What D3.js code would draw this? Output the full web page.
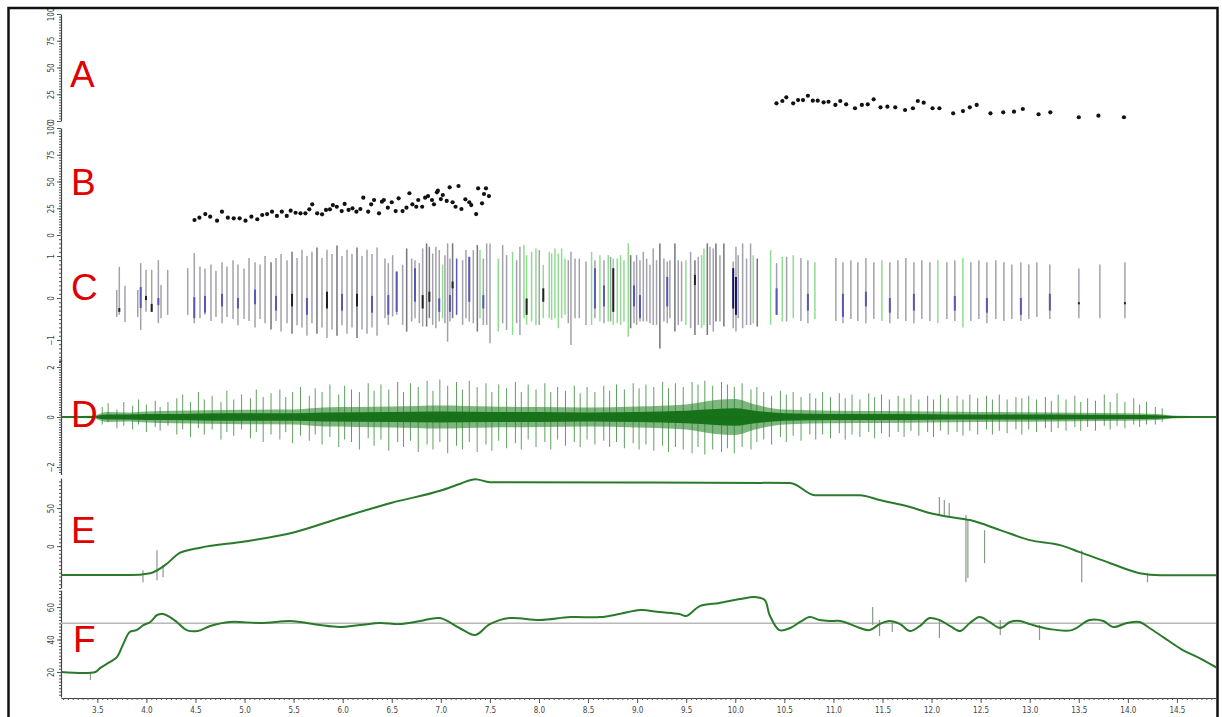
<!DOCTYPE html>
<html>
<head>
<meta charset="utf-8">
<script src="https://cdn.jsdelivr.net/npm/d3@7"></script>
<style>
  body { margin: 0; background: #fff; }
  svg { display: block; }
  .axis text { font-family: "Liberation Sans Narrow", "DejaVu Sans Condensed", sans-serif; font-size: 8px; fill: #444; }
  .axis .domain { stroke: #444; stroke-width: 1.2; }
  .axis line { stroke: #555; }
  .letter { font-family: "Liberation Sans", Arial, sans-serif; font-size: 37px; fill: #e00000; }
</style>
</head>
<body>
<svg width="1222" height="717"></svg>
<script>
// time axis ticks
let timeTicks = [3.5, 4.0, 4.5, 5.0, 5.5, 6.0, 6.5, 7.0, 7.5, 8.0, 8.5, 9.0, 9.5, 10.0, 10.5, 11.0, 11.5, 12.0, 12.5, 13.0, 13.5, 14.0, 14.5, 15.0]

// panel A: dots
let aTime = [10.42, 10.48, 10.52, 10.59, 10.64, 10.69, 10.74, 10.79, 10.84, 10.90, 10.95, 11.02, 11.07, 11.13, 11.22, 11.29, 11.35, 11.41, 11.48, 11.55, 11.63, 11.73, 11.81, 11.86, 11.92, 12.01, 12.08, 12.22, 12.32, 12.39, 12.46, 12.60, 12.73, 12.84, 12.93, 13.09, 13.21, 13.50, 13.70, 13.96]
let aVal = [16.5, 18.7, 22.1, 16.5, 19.6, 19.6, 23.6, 19.0, 19.0, 17.5, 18.0, 15.0, 18.7, 15.6, 11.9, 15.0, 15.6, 20.3, 12.8, 13.4, 12.8, 10.3, 11.9, 18.7, 17.1, 11.9, 11.9, 7.2, 9.3, 12.8, 15.0, 7.2, 8.1, 8.7, 11.2, 6.3, 8.1, 3.5, 5.0, 3.5]

// panel B: dots
let bTime = [4.49, 4.54, 4.60, 4.65, 4.72, 4.77, 4.83, 4.89, 4.95, 5.01, 5.07, 5.13, 5.18, 5.23, 5.28, 5.33, 5.38, 5.43, 5.47, 5.52, 5.57, 5.62, 5.66, 5.69, 5.74, 5.79, 5.83, 5.87, 5.90, 5.94, 5.99, 6.02, 6.06, 6.10, 6.14, 6.18, 6.21, 6.26, 6.29, 6.32, 6.37, 6.40, 6.42, 6.46, 6.50, 6.54, 6.57, 6.61, 6.65, 6.68, 6.71, 6.75, 6.77, 6.81, 6.84, 6.87, 6.91, 6.93, 6.96, 6.97, 7.00, 7.02, 7.06, 7.09, 7.12, 7.15, 7.18, 7.21, 7.25, 7.29, 7.31, 7.36, 7.38, 7.42, 7.44, 7.46, 7.49]
let bVal = [14.0, 16.2, 19.6, 17.1, 13.4, 21.8, 16.2, 15.6, 15.6, 13.4, 17.1, 14.7, 18.7, 19.6, 21.8, 17.8, 21.8, 17.8, 22.7, 20.8, 20.3, 20.3, 24.0, 28.7, 20.3, 19.3, 23.4, 24.0, 28.0, 26.4, 22.4, 29.0, 23.4, 24.9, 21.8, 24.3, 34.9, 21.8, 28.7, 32.7, 20.3, 31.1, 32.7, 25.5, 30.6, 22.4, 34.3, 22.4, 25.5, 39.0, 28.7, 26.4, 32.7, 26.4, 34.9, 36.4, 32.7, 28.7, 39.9, 41.4, 33.6, 37.4, 31.8, 44.6, 30.6, 26.4, 45.8, 24.3, 33.3, 30.6, 28.0, 19.6, 43.6, 29.6, 38.3, 43.6, 36.4]

// panel C: [time, low, high, colour, inner low, inner high, inner colour]
let cSpikes = [
  [3.698, -0.45, 0.19, 'g'], [3.724, -0.40, 0.74, 'g', -0.33, -0.24, 'k'], [3.782, -0.57, 0.29, 'g'],
  [3.912, -0.45, 0.19, 'g'], [3.942, -0.76, 0.83, 'g', -0.24, 0.26, 'b'], [3.996, -0.33, 0.67, 'g', -0.05, 0.05, 'k'],
  [4.054, -0.33, 0.67, 'g', -0.33, -0.14, 'k'], [4.122, -0.60, 0.90, 'g', -0.17, 0.0, 'b'], [4.149, -0.48, 0.31, 'g'],
  [4.217, -0.40, 0.67, 'g'], [4.421, -0.40, 0.71, 'g'], [4.488, -0.60, 1.07, 'g', -0.48, 0.02, 'b'],
  [4.546, -0.48, 0.75, 'g'], [4.597, -0.40, 0.70, 'g', -0.35, 0.05, 'b'], [4.658, -0.55, 0.80, 'g'],
  [4.709, -0.45, 0.65, 'g'], [4.771, -0.60, 0.85, 'g', -0.20, 0.10, 'b'], [4.821, -0.45, 0.75, 'g'],
  [4.883, -0.50, 0.90, 'g'], [4.933, -0.65, 0.80, 'g', -0.25, 0.0, 'b'], [4.995, -0.50, 0.70, 'g'],
  [5.046, -0.55, 0.95, 'g'], [5.107, -0.70, 0.85, 'g', -0.15, 0.20, 'b'], [5.158, -0.50, 0.80, 'g'],
  [5.209, -0.60, 1.00, 'g'], [5.270, -0.75, 0.85, 'd'], [5.321, -0.55, 0.95, 'g', -0.30, 0.05, 'b'],
  [5.372, -0.80, 1.05, 'g'], [5.433, -0.60, 0.90, 'g'], [5.484, -0.85, 1.10, 'd', -0.20, 0.10, 'k'],
  [5.535, -0.65, 0.95, 'g'], [5.585, -0.70, 1.15, 'g'], [5.636, -0.90, 1.00, 'g', -0.40, 0.0, 'b'],
  [5.687, -0.60, 1.10, 'g'], [5.738, -0.85, 1.20, 'd'], [5.789, -0.70, 0.95, 'g'],
  [5.840, -0.95, 1.15, 'g', -0.25, 0.15, 'k'], [5.891, -0.75, 1.05, 'g'], [5.942, -0.90, 1.25, 'd'],
  [5.993, -0.65, 1.00, 'g', -0.30, 0.10, 'b'], [6.044, -0.85, 1.15, 'g'], [6.095, -0.70, 1.05, 'g'],
  [6.146, -0.95, 1.20, 'd', -0.20, 0.10, 'k'], [6.197, -0.75, 1.00, 'g'], [6.248, -0.85, 1.15, 'g'],
  [6.299, -0.70, 1.05, 'g', -0.35, 0.05, 'b'], [6.350, -0.90, 1.20, 'g'],
  [6.431, -0.48, 0.94, 'g'], [6.465, -0.64, 0.83, 'g', -0.40, 0.07, 'b'], [6.509, -0.44, 1.02, 'g'],
  [6.550, -0.40, 0.63, 'g', -0.33, 0.63, 'b'], [6.611, -0.64, 0.79, 'g'], [6.652, -0.80, 1.18, 'd'],
  [6.703, -0.56, 0.94, 'g'], [6.737, -0.48, 0.90, 'g', -0.09, 0.71, 'b'], [6.781, -0.60, 0.83, 'g'],
  [6.815, -0.68, 1.18, 'g', -0.25, 0.07, 'k'], [6.855, -0.68, 1.30, 'd'], [6.883, -0.48, 1.22, 'd', -0.09, 0.15, 'k'],
  [6.917, -0.64, 1.06, 'g'], [6.950, -0.72, 1.22, 'g'], [6.984, -0.56, 1.14, 'g', -0.33, -0.01, 'b'],
  [7.018, -0.48, 0.79, 'l'], [7.042, -0.60, 1.02, 'g'], [7.069, -1.04, 1.30, 'g'],
  [7.093, -0.56, 0.94, 'g', -0.33, 0.07, 'b'], [7.120, -0.48, 1.30, 'd', 0.23, 0.39, 'k'], [7.161, -0.40, 0.94, 'b'],
  [7.222, -0.64, 0.90, 'g'], [7.256, -0.48, 1.14, 'g'], [7.290, -0.56, 0.98, 'g', -0.09, 0.98, 'b'],
  [7.331, -0.60, 1.14, 'g'], [7.372, -0.80, 1.26, 'd'], [7.399, -0.48, 1.14, 'l'],
  [7.433, -0.64, 0.94, 'g', -0.25, 0.07, 'b'], [7.467, -0.64, 1.30, 'g'], [7.501, -1.08, 1.30, 'g'],
  [7.585, -0.80, 0.94, 'l'], [7.630, -0.60, 1.26, 'g'], [7.670, -0.76, 1.02, 'g'],
  [7.731, -0.88, 1.10, 'l'], [7.772, -0.60, 0.90, 'g'], [7.806, -0.88, 1.22, 'g'],
  [7.847, -0.48, 1.26, 'l'], [7.874, -0.64, 1.02, 'l', -0.40, -0.01, 'k'], [7.925, -0.56, 1.10, 'l'],
  [7.969, -0.64, 1.18, 'l'], [8.003, -0.64, 1.14, 'g'], [8.044, -0.48, 0.79, 'l', -0.09, 0.23, 'k'],
  [8.105, -0.48, 1.10, 'l'], [8.129, -0.52, 1.06, 'l'], [8.163, -0.48, 1.18, 'l'],
  [8.197, -0.72, 1.06, 'l'], [8.231, -0.48, 1.18, 'l'], [8.265, -0.40, 0.94, 'l'],
  [8.299, -0.60, 0.90, 'g'], [8.326, -1.12, 1.10, 'g'], [8.367, -0.48, 0.94, 'g'],
  [8.411, -0.48, 0.94, 'g'], [8.479, -0.64, 0.87, 'g'], [8.536, -0.64, 1.10, 'l'],
  [8.570, -0.48, 0.90, 'g', -0.25, 0.71, 'b'], [8.621, -0.56, 1.02, 'l'], [8.662, -0.60, 0.90, 'g', -0.20, 0.30, 'b'],
  [8.706, -0.56, 1.02, 'l'], [8.730, -0.56, 0.98, 'g'], [8.757, -0.64, 0.94, 'l', -0.33, 0.71, 'k'],
  [8.798, -0.60, 0.94, 'l'], [8.832, -0.64, 1.02, 'l'], [8.866, -0.56, 0.90, 'l'],
  [8.910, -0.92, 1.30, 'l'], [8.934, -0.72, 1.02, 'd'], [8.968, -0.60, 0.87, 'g', -0.20, 0.30, 'b'],
  [8.995, -0.64, 1.02, 'g'], [9.029, -0.56, 0.90, 'g', -0.48, 0.07, 'b'], [9.063, -0.56, 1.10, 'g'],
  [9.097, -0.56, 0.94, 'g'], [9.131, -0.60, 0.79, 'g'], [9.164, -0.64, 1.18, 'g'],
  [9.198, -0.64, 0.90, 'g'], [9.232, -1.20, 1.30, 'd'], [9.273, -0.56, 0.94, 'g'],
  [9.307, -0.60, 0.87, 'g', -0.20, 0.50, 'b'], [9.334, -0.48, 0.90, 'g'], [9.385, -0.80, 1.30, 'd'],
  [9.419, -0.64, 0.90, 'g'], [9.453, -0.56, 0.87, 'g'], [9.497, -0.64, 0.90, 'l'],
  [9.545, -0.72, 1.10, 'g'], [9.589, -0.88, 0.90, 'd', 0.31, 0.55, 'k'], [9.623, -0.64, 0.98, 'g'],
  [9.657, -0.72, 1.02, 'l'], [9.681, -0.64, 1.18, 'l'], [9.715, -0.88, 1.30, 'd'],
  [9.742, -0.64, 1.22, 'g'], [9.776, -0.80, 1.18, 'g'], [9.803, -0.56, 1.30, 'd'],
  [9.844, -0.56, 1.02, 'g'], [9.884, -0.68, 1.30, 'd'], [9.979, -0.72, 0.87, 'g', -0.25, 0.71, 'n'],
  [10.007, -0.80, 1.22, 'g', -0.40, 0.50, 'n'], [10.030, -0.48, 1.02, 'g'], [10.075, -0.72, 1.30, 'g'],
  [10.115, -0.64, 0.94, 'g'], [10.156, -0.64, 1.30, 'g'], [10.183, -0.60, 1.02, 'l'],
  [10.224, -0.68, 0.94, 'd'], [10.360, -0.64, 1.14, 'l'], [10.421, -0.40, 0.83, 'g', -0.40, 0.23, 'b'],
  [10.479, -0.56, 0.98, 'l'], [10.523, -0.56, 0.98, 'g'], [10.591, -0.48, 1.02, 'l'],
  [10.669, -0.55, 0.95, 'g'], [10.740, -0.60, 0.90, 'g', -0.30, 0.10, 'b'], [10.811, -0.50, 0.85, 'l'],
  [11.025, -0.55, 0.95, 'g'], [11.097, -0.60, 0.85, 'g', -0.45, 0.10, 'b'], [11.178, -0.50, 0.90, 'g'],
  [11.249, -0.55, 0.85, 'g'], [11.331, -0.60, 0.95, 'g', -0.20, 0.15, 'b'], [11.412, -0.50, 0.85, 'g'],
  [11.494, -0.55, 0.90, 'l'], [11.575, -0.60, 0.85, 'g', -0.35, 0.0, 'b'], [11.657, -0.50, 0.90, 'g'],
  [11.738, -0.55, 0.95, 'g'], [11.820, -0.60, 0.85, 'g', -0.30, 0.10, 'b'], [11.901, -0.50, 0.90, 'g'],
  [11.983, -0.55, 0.85, 'g'], [12.064, -0.60, 0.90, 'l'], [12.156, -0.50, 0.85, 'g'],
  [12.237, -0.55, 0.90, 'g', -0.30, 0.05, 'b'], [12.319, -0.70, 0.95, 'l'], [12.400, -0.55, 0.85, 'g'],
  [12.482, -0.50, 0.90, 'g'], [12.564, -0.60, 0.85, 'g', -0.35, 0.0, 'b'], [12.655, -0.50, 0.90, 'g'],
  [12.737, -0.55, 0.85, 'g'], [12.818, -0.50, 0.80, 'g'], [12.910, -0.55, 0.85, 'g', -0.40, 0.0, 'b'],
  [12.991, -0.50, 0.80, 'g'], [13.073, -0.45, 0.85, 'g'], [13.205, -0.50, 0.80, 'g', -0.30, 0.10, 'b'],
  [13.501, -0.48, 0.70, 'g', -0.15, -0.10, 'k'], [13.715, -0.48, 0.80, 'g'], [13.970, -0.48, 0.85, 'g', -0.15, -0.10, 'k']
]

// panel D: envelope of the dense band, its darker core and the light spikes [time, low, high]
let dEnvTime = [3.13, 3.45, 3.6, 3.8, 4.0, 4.3, 4.6, 5.0, 5.5, 5.8, 6.5, 7.0, 7.5, 8.0, 8.5, 9.0, 9.5, 9.8, 10.0, 10.2, 10.5, 11.0, 11.5, 12.0, 12.5, 13.0, 13.5, 14.0, 14.3, 14.5, 14.9]
let dEnvAmp = [0.03, 0.05, 0.2, 0.18, 0.22, 0.25, 0.27, 0.29, 0.3, 0.38, 0.42, 0.46, 0.42, 0.4, 0.38, 0.42, 0.5, 0.68, 0.72, 0.5, 0.3, 0.25, 0.24, 0.22, 0.2, 0.19, 0.17, 0.15, 0.12, 0.05, 0.03]
let dCoreAmp = [0.02, 0.03, 0.1, 0.1, 0.12, 0.12, 0.14, 0.15, 0.15, 0.18, 0.2, 0.22, 0.2, 0.2, 0.18, 0.2, 0.25, 0.32, 0.35, 0.25, 0.15, 0.12, 0.12, 0.11, 0.1, 0.1, 0.09, 0.08, 0.07, 0.03, 0.02]
let dSpikes = [
  [3.55, -0.3, 0.4], [3.61, -0.2, 0.55], [3.70, -0.45, 0.3], [3.77, -0.35, 0.6], [3.86, -0.5, 0.45], [3.92, -0.3, 0.7],
  [4.00, -0.6, 0.5], [4.09, -0.4, 0.65], [4.14, -0.55, 0.4], [4.22, -0.35, 0.6], [4.31, -0.7, 0.75], [4.37, -0.5, 0.9],
  [4.45, -0.8, 0.6], [4.53, -0.45, 1.0], [4.59, -0.7, 0.7], [4.67, -0.5, 0.85], [4.76, -0.9, 0.6], [4.82, -0.6, 1.05],
  [4.89, -0.75, 0.7], [4.97, -0.5, 0.9], [5.06, -0.85, 0.75], [5.12, -0.6, 1.1], [5.19, -1.0, 0.8], [5.27, -0.7, 0.95],
  [5.36, -0.9, 1.1], [5.42, -0.6, 0.8], [5.49, -1.05, 1.0], [5.57, -0.75, 1.2], [5.66, -0.95, 0.85], [5.72, -0.7, 1.15],
  [5.79, -1.1, 1.0], [5.87, -0.8, 1.3], [5.96, -1.2, 0.9], [6.02, -0.9, 1.25], [6.09, -1.0, 1.1], [6.17, -1.3, 1.0],
  [6.26, -0.85, 1.35], [6.32, -1.15, 1.05], [6.39, -0.9, 1.3], [6.47, -1.35, 1.1], [6.56, -1.0, 1.4], [6.62, -1.2, 1.0],
  [6.69, -0.95, 1.35], [6.77, -1.4, 1.2], [6.86, -1.1, 1.45], [6.92, -1.3, 1.05], [6.99, -1.0, 1.5], [7.07, -1.45, 1.25],
  [7.16, -1.15, 1.4], [7.22, -1.3, 1.1], [7.29, -1.0, 1.45], [7.37, -1.4, 1.2], [7.46, -1.1, 1.35], [7.52, -1.35, 1.0],
  [7.59, -0.95, 1.3], [7.67, -1.25, 1.15], [7.76, -1.05, 1.4], [7.82, -1.3, 1.0], [7.89, -0.9, 1.3], [7.97, -1.2, 1.1],
  [8.06, -1.0, 1.35], [8.12, -1.3, 1.0], [8.19, -0.9, 1.2], [8.27, -1.15, 1.05], [8.36, -1.0, 1.25], [8.42, -1.2, 0.95],
  [8.49, -0.9, 1.2], [8.57, -1.1, 1.0], [8.66, -0.95, 1.25], [8.72, -1.2, 1.05], [8.79, -1.0, 1.3], [8.87, -1.25, 1.1],
  [8.96, -1.05, 1.35], [9.02, -1.3, 1.15], [9.09, -1.1, 1.3], [9.17, -1.35, 1.2], [9.26, -1.15, 1.4], [9.32, -1.4, 1.15],
  [9.39, -1.2, 1.35], [9.47, -1.3, 1.2], [9.56, -1.45, 1.4], [9.62, -1.2, 1.3], [9.69, -1.5, 1.45], [9.77, -1.3, 1.25],
  [9.86, -1.4, 1.4], [9.92, -1.25, 1.3], [9.99, -1.45, 1.2], [10.07, -1.2, 1.35], [10.16, -1.3, 1.1], [10.22, -1.0, 1.2],
  [10.29, -0.9, 1.0], [10.37, -1.1, 0.85], [10.46, -0.8, 1.05], [10.52, -1.0, 0.9], [10.59, -0.75, 1.0], [10.67, -0.95, 0.8],
  [10.76, -0.7, 0.95], [10.82, -0.9, 0.75], [10.89, -0.7, 1.0], [10.97, -0.85, 0.8], [11.06, -0.65, 0.95], [11.12, -0.9, 0.75],
  [11.19, -0.7, 0.9], [11.27, -0.8, 0.7], [11.36, -0.6, 0.95], [11.42, -0.85, 0.8], [11.49, -0.65, 0.9], [11.57, -0.8, 0.7],
  [11.66, -0.6, 0.85], [11.72, -0.8, 0.75], [11.79, -0.55, 0.9], [11.87, -0.75, 0.7], [11.96, -0.6, 0.85], [12.02, -0.8, 0.7],
  [12.09, -0.55, 0.9], [12.17, -0.7, 0.75], [12.26, -0.6, 0.85], [12.32, -0.75, 0.7], [12.39, -0.55, 0.9], [12.47, -0.7, 0.75],
  [12.56, -0.5, 0.85], [12.62, -0.7, 0.7], [12.69, -0.55, 0.9], [12.77, -0.65, 0.7], [12.86, -0.5, 0.8], [12.92, -0.7, 0.75],
  [12.99, -0.5, 0.85], [13.07, -0.6, 0.7], [13.16, -0.45, 0.8], [13.22, -0.6, 0.65], [13.29, -0.45, 0.9], [13.37, -0.55, 0.7],
  [13.46, -0.4, 0.85], [13.52, -0.55, 0.6], [13.59, -0.4, 0.75], [13.67, -0.55, 0.65], [13.76, -0.35, 0.9], [13.82, -0.5, 0.6],
  [13.89, -0.35, 0.95], [13.97, -0.45, 0.6], [14.06, -0.3, 0.75], [14.12, -0.4, 0.5], [14.19, -0.3, 0.6], [14.28, -0.3, 0.4],
  [14.35, -0.2, 0.35]
]

// panel E: trace and spikes [time, low, high]
let eTime = [3.13, 3.83, 4.04, 4.19, 4.34, 4.55, 5.0, 5.5, 6.0, 6.5, 7.0, 7.2, 7.35, 7.5, 10.56, 10.81, 11.27, 11.47, 11.78, 11.98, 12.19, 12.39, 12.70, 13.00, 13.31, 13.51, 13.82, 14.12, 14.33, 14.91]
let eVal = [-38, -38, -35.5, -25, -9, -2, 6, 18, 38, 57, 73, 82, 88, 84, 83, 67, 67, 60.5, 51.3, 43.4, 38.2, 34.2, 21, 7.9, 1.3, -7.9, -22.4, -35.5, -38.2, -38.2]
let eSpikes = [[3.965, -47.4, -31.6], [4.108, -44.7, -5.3], [4.17, -40.8, -25], [12.08, 40.8, 64.5], [12.13, 40.8, 60.5],
  [12.18, 39.5, 56.6], [12.35, -47.4, 40.8], [12.37, -42, 34.2], [12.54, -22.4, 21], [13.53, -47.4, -5.3], [14.2, -47.4, -35.5]]

// panel F: trace, reference level and spikes
let fTime = [3.13, 3.48, 3.53, 3.63, 3.70, 3.76, 3.83, 3.90, 3.97, 4.04, 4.11, 4.17, 4.24, 4.31, 4.41, 4.52, 4.65, 4.85, 5.16, 5.46, 5.57, 5.77, 5.97, 6.18, 6.38, 6.58, 6.79, 6.99, 7.19, 7.35, 7.50, 7.70, 8.01, 8.32, 8.62, 8.82, 9.03, 9.23, 9.43, 9.50, 9.64, 9.84, 10.05, 10.20, 10.30, 10.35, 10.45, 10.56, 10.66, 10.76, 10.86, 10.96, 11.07, 11.17, 11.27, 11.37, 11.47, 11.57, 11.68, 11.78, 11.88, 11.98, 12.08, 12.19, 12.29, 12.39, 12.49, 12.59, 12.70, 12.80, 12.90, 13.00, 13.20, 13.43, 13.61, 13.75, 13.85, 13.99, 14.12, 14.22, 14.36, 14.56, 14.73, 14.91]
let fVal = [20, 20, 22.5, 26.2, 29.2, 36.6, 44.6, 45.8, 48.9, 50.8, 55.1, 55.7, 53.8, 50.8, 45.8, 45.2, 48.3, 50.8, 50.2, 51.4, 50.8, 48.9, 47.7, 48.9, 50.2, 49.5, 51.4, 53.2, 47.1, 42.8, 49.5, 53.2, 52.0, 53.8, 53.8, 55.7, 58.2, 56.9, 55.7, 54.5, 60.6, 62.5, 64.9, 66.2, 64.3, 55.1, 45.8, 47.1, 50.8, 53.8, 52.0, 51.4, 51.4, 49.5, 47.1, 45.8, 49.5, 51.4, 49.5, 45.2, 48.3, 53.2, 52.0, 48.3, 45.2, 50.2, 53.8, 50.8, 47.1, 50.8, 51.4, 49.5, 46.5, 45.8, 52.0, 51.4, 47.7, 50.2, 50.8, 47.1, 41.5, 33.5, 28.6, 22.5]
let fRef = 50
let fSpikes = [[3.43, 15.1, 20], [11.40, 48.9, 60], [11.47, 42.2, 52], [11.60, 44.6, 50.8], [12.08, 40.9, 52], [12.70, 42.8, 52], [13.10, 39.7, 48.9]]

let svg = d3.select('svg')
let x = d3.scaleLinear().domain([3.13, 15.0]).range([61, 1226])

svg.append('defs').append('clipPath').attr('id', 'plot')
  .append('rect').attr('x', 0).attr('y', 0).attr('width', 1216).attr('height', 717)

let panels = [
  { id: 'A', domain: [0, 100], range: [121, 14], major: [0, 25, 50, 75, 100], minor: 2.5, lx: 70, ly: 87 },
  { id: 'B', domain: [0, 100], range: [235, 128], major: [0, 25, 50, 75, 100], minor: 2.5, lx: 71, ly: 195 },
  { id: 'C', domain: [-1.5, 1.5], range: [361, 235], major: [-1, 0, 1], minor: 0.1, lx: 71, ly: 300 },
  { id: 'D', domain: [-2.3, 2.3], range: [474.5, 359.5], major: [-2, 0, 2], minor: 0.1, lx: 71, ly: 427 },
  { id: 'E', domain: [-55, 89.5], range: [588, 478], major: [0, 50], minor: 5, lx: 71, ly: 543 },
  { id: 'F', domain: [4.6, 70.5], range: [697, 590], major: [20, 40, 60], minor: 2, lx: 73, ly: 652 }
]

let ys = {}
panels.forEach(function(p) {
  let y = d3.scaleLinear().domain(p.domain).range(p.range)
  ys[p.id] = y
  let minorVals = d3.range(Math.ceil(p.domain[0] / p.minor) * p.minor, p.domain[1] + 1e-9, p.minor)
  svg.append('g').attr('class', 'axis').attr('transform', 'translate(61,0)')
    .call(d3.axisLeft(y).tickValues(minorVals).tickSize(2).tickFormat('').tickSizeOuter(0))
  let g = svg.append('g').attr('class', 'axis').attr('transform', 'translate(61,0)')
    .call(d3.axisLeft(y).tickValues(p.major).tickSize(4).tickSizeOuter(0).tickFormat(d3.format('d')))
  g.select('.domain').remove()
  g.selectAll('.tick text')
    .attr('transform', 'rotate(-90)')
    .attr('x', 0).attr('y', -7).attr('dy', 0)
    .attr('text-anchor', 'middle')
})

// x axis
let xMinor = d3.range(3.15, 15.001, 0.05)
let plot = svg.append('g').attr('clip-path', 'url(#plot)')
plot.append('g').attr('class', 'axis').attr('transform', 'translate(0,698)')
  .call(d3.axisBottom(x).tickValues(xMinor).tickSize(2).tickFormat('').tickSizeOuter(0))
plot.append('g').attr('class', 'axis').attr('transform', 'translate(0,698)')
  .call(d3.axisBottom(x).tickValues(timeTicks).tickSize(5).tickSizeOuter(0).tickFormat(d3.format('.1f')))
  .call(g => g.select('.domain').remove())
  .selectAll('text').attr('dy', '0.9em')

// A & B dots
plot.append('g').selectAll('circle').data(aTime).enter().append('circle')
  .attr('cx', d => x(d)).attr('cy', (d, i) => ys.A(aVal[i])).attr('r', 2.1).attr('fill', '#111')
plot.append('g').selectAll('circle').data(bTime).enter().append('circle')
  .attr('cx', d => x(d)).attr('cy', (d, i) => ys.B(bVal[i])).attr('r', 2.1).attr('fill', '#111')

// C spikes
let cColour = { g: '#a2a2ac', l: '#92dc92', d: '#74747e', b: '#5858b0', k: '#222222', n: '#14145e' }
plot.append('g').selectAll('line').data(cSpikes).enter().append('line')
  .attr('x1', d => x(d[0])).attr('x2', d => x(d[0]))
  .attr('y1', d => ys.C(d[1])).attr('y2', d => ys.C(d[2]))
  .attr('stroke', d => cColour[d[3]]).attr('stroke-width', 1.5)
plot.append('g').selectAll('line').data(cSpikes.filter(d => d.length > 4)).enter().append('line')
  .attr('x1', d => x(d[0])).attr('x2', d => x(d[0]))
  .attr('y1', d => ys.C(d[4])).attr('y2', d => ys.C(d[5]))
  .attr('stroke', d => cColour[d[6]]).attr('stroke-width', 2)

// D band
let dEnv = dEnvTime.map((t, i) => ({ t: t, a: dEnvAmp[i], c: dCoreAmp[i] }))
plot.append('g').selectAll('line').data(dSpikes).enter().append('line')
  .attr('x1', d => x(d[0])).attr('x2', d => x(d[0]))
  .attr('y1', d => ys.D(d[1])).attr('y2', d => ys.D(d[2]))
  .attr('stroke', '#5f9f5f').attr('stroke-width', 1)
plot.append('path').datum(dEnv)
  .attr('d', d3.area().x(d => x(d.t)).y0(d => ys.D(-d.a)).y1(d => ys.D(d.a)).curve(d3.curveMonotoneX))
  .attr('fill', '#2a862a').attr('fill-opacity', 0.6)
plot.append('path').datum(dEnv)
  .attr('d', d3.area().x(d => x(d.t)).y0(d => ys.D(-d.c)).y1(d => ys.D(d.c)).curve(d3.curveMonotoneX))
  .attr('fill', '#17731a')
plot.append('line').attr('x1', x(3.13)).attr('x2', x(15)).attr('y1', ys.D(0)).attr('y2', ys.D(0))
  .attr('stroke', '#1d6e1d').attr('stroke-width', 1.5)

// E
plot.append('g').selectAll('line').data(eSpikes).enter().append('line')
  .attr('x1', d => x(d[0])).attr('x2', d => x(d[0]))
  .attr('y1', d => ys.E(d[1])).attr('y2', d => ys.E(d[2]))
  .attr('stroke', '#8a9a8a').attr('stroke-width', 1.2)
plot.append('path').datum(eTime.map((t, i) => [t, eVal[i]]))
  .attr('d', d3.line().x(d => x(d[0])).y(d => ys.E(d[1])).curve(d3.curveMonotoneX))
  .attr('fill', 'none').attr('stroke', '#2b7a2b').attr('stroke-width', 2)

// F
plot.append('line').attr('x1', x(3.13)).attr('x2', x(15)).attr('y1', ys.F(fRef)).attr('y2', ys.F(fRef))
  .attr('stroke', '#b8b8b8').attr('stroke-width', 1.5)
plot.append('g').selectAll('line').data(fSpikes).enter().append('line')
  .attr('x1', d => x(d[0])).attr('x2', d => x(d[0]))
  .attr('y1', d => ys.F(d[1])).attr('y2', d => ys.F(d[2]))
  .attr('stroke', '#8a9a8a').attr('stroke-width', 1.2)
plot.append('path').datum(fTime.map((t, i) => [t, fVal[i]]))
  .attr('d', d3.line().x(d => x(d[0])).y(d => ys.F(d[1])).curve(d3.curveCatmullRom))
  .attr('fill', 'none').attr('stroke', '#2b7a2b').attr('stroke-width', 2)

// panel letters
svg.append('g').selectAll('text').data(panels).enter().append('text')
  .attr('class', 'letter').attr('x', d => d.lx).attr('y', d => d.ly).text(d => d.id)

// outer frame
svg.append('rect').attr('x', 8.5).attr('y', 8).attr('width', 1209).attr('height', 730)
  .attr('fill', 'none').attr('stroke', '#111').attr('stroke-width', 2.5)
</script>
</body>
</html>
